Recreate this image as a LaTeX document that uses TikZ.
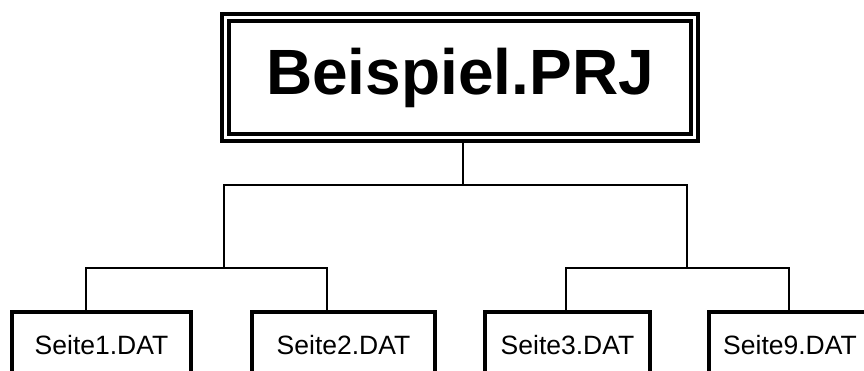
\documentclass[tikz,border=0pt]{standalone}
\usepackage{fontspec}
\setmainfont{Liberation Sans}
\usetikzlibrary{positioning}

\begin{document}
\begin{tikzpicture}[
  x=1pt, y=-1pt,
  root/.style = {draw, line width=4pt, double, double distance=3pt, inner sep=0pt,
                 minimum width=469pt, minimum height=120pt, font=\bfseries\fontsize{64}{64}\selectfont},
  leaf/.style = {draw, line width=4pt, inner sep=0pt, minimum height=66pt,
                 text height=19pt, text depth=0pt, font=\fontsize{26.5}{26.5}\selectfont},
  link/.style = {line width=2pt}
]
  \useasboundingbox (0,0) rectangle (864,371);

  \node[root] (prj) at (460,77.5) {Beispiel.PRJ};

  \node[leaf, minimum width=179pt] (s1) at (101.5,345) {Seite1.DAT};
  \node[leaf, minimum width=183pt] (s2) at (343.5,345) {Seite2.DAT};
  \node[leaf, minimum width=165pt] (s3) at (567.5,345) {Seite3.DAT};
  \node[leaf, minimum width=162pt] (s9) at (790,345) {Seite9.DAT};

  % branching points
  \coordinate (j0) at (463,185.5);
  \coordinate (jl) at (224,268);
  \coordinate (jr) at (687,268);
  \coordinate (k1) at (86,268);
  \coordinate (k2) at (327,268);
  \coordinate (k3) at (566,268);
  \coordinate (k4) at (789,268);

  \draw[link] (prj.south -| j0) -- (j0);
  \draw[link] (jl) |- (j0) -| (jr);
  \draw[link] (s1.north -| k1) |- (k2) -- (s2.north -| k2);
  \draw[link] (s3.north -| k3) |- (k4) -- (s9.north -| k4);
\end{tikzpicture}
\end{document}
